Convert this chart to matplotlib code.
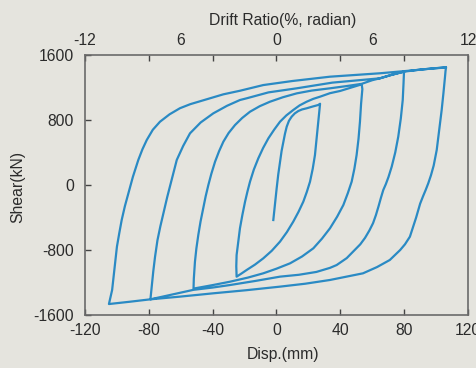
import matplotlib
matplotlib.use("Agg")
import matplotlib.pyplot as plt
import numpy as np

plt.rcParams['font.family'] = ['Liberation Sans', 'DejaVu Sans']

# ---- data ----
init_disp = [-2, -1, 0.1, 1.1, 2.2, 3.2, 4.3, 5.3, 6.4, 7.8, 9.5, 11.5, 13.7, 16, 18.9, 22.5, 26.2, 27.3]
init_shear = [-431, -240, -41, 130, 287, 420, 533, 630, 718, 790, 841, 882, 911, 930, 944, 965, 985, 1000]

unload27_disp = [26.8, 26.2, 25.2, 24.1, 22.7, 21, 19, 16.8, 13.8, 10.5, 6.5, 2.2, -3, -8.3, -13.5, -18.7, -22, -25]
unload27_shear = [900, 779, 570, 369, 200, 41, -85, -205, -330, -451, -580, -697, -810, -903, -980, -1046, -1090, -1128]

reload27_disp = [-25.2, -25, -24, -22.9, -21.4, -19.7, -18.2, -16.6, -14.2, -11.4, -8.4, -5.1, -1.5, 2.2, 6.2,
                 10.5, 14.5, 18.9, 23, 27.3, 33.5, 39.8, 46, 53.4]
reload27_shear = [-1000, -862, -700, -533, -370, -205, -80, 41, 190, 328, 455, 574, 680, 779, 857,
                  923, 980, 1025, 1060, 1087, 1130, 1157, 1195, 1239]

unload54_disp = [53.8, 53, 52.3, 51.4, 50.2, 48.8, 47.1, 44.7, 41.9, 38, 33.5, 28.5, 23.1, 16, 8.5, 0,
                 -8.3, -18, -29.1, -40, -52]
unload54_shear = [1180, 1000, 779, 570, 369, 200, 41, -100, -246, -390, -533, -660, -779, -880, -964, -1030,
                  -1087, -1140, -1190, -1232, -1275]

reload54_disp = [-51.8, -51.1, -50.2, -49, -47.6, -45.9, -44.4, -42.7, -40.8, -38.5, -36, -33.3, -30, -26,
                 -21.5, -16.6, -10.5, -4.1, 4, 12.7, 22, 33.5, 43, 53.4, 60, 64.8, 72, 79.9]
reload54_shear = [-1150, -944, -780, -615, -450, -287, -140, 0, 140, 287, 415, 533, 640, 738,
                  825, 902, 970, 1025, 1080, 1128, 1162, 1190, 1215, 1245, 1290, 1313, 1355, 1395]

unload80_disp = [79.6, 79.1, 77.9, 76.3, 74.4, 72.2, 70.2, 68.5, 66.9, 65.4, 63.9, 62.3, 60.5, 58.2, 55.5,
                 52.5, 49, 44, 37.7, 33.5, 25, 14, 2.2, -13, -29.1, -40, -52, -66, -79]
unload80_shear = [1250, 1046, 820, 595, 400, 226, 100, 10, -62, -160, -265, -370, -470, -560, -650,
                  -730, -800, -900, -985, -1020, -1070, -1105, -1128, -1180, -1231, -1262, -1290, -1350, -1407]

reload80_disp = [-78.2, -77.2, -76.1, -74.6, -72.8, -70.9, -68.5, -65.7, -62.5, -58.5, -54.2, -47.5, -39.6,
                 -31, -22.9, -18.7, -5, 12.7, 35, 64.8, 72, 79.9, 90, 98, 106.2]
reload80_shear = [-1251, -1060, -882, -680, -510, -349, -150, 62, 308, 480, 636, 770, 882,
                  975, 1046, 1067, 1140, 1190, 1260, 1313, 1355, 1395, 1420, 1435, 1445]

unload106_disp = [105.9, 105.6, 104.6, 103.5, 102, 100.4, 98.5, 96.8, 95.1, 93.5, 91.8, 90, 87.5, 85.5, 83.6,
                  80.5, 77.5, 71, 63, 54.2, 44, 33.5, 18, 2.2, -19, -39.6, -60.5, -79, -92, -105]
unload106_shear = [1400, 1333, 1130, 923, 680, 431, 240, 120, 21, -60, -140, -230, -400, -520, -636,
                   -730, -800, -923, -1010, -1087, -1128, -1169, -1215, -1251, -1295, -1333, -1374, -1407, -1437, -1465]

reload106_disp = [-104, -103, -101.5, -100, -98.5, -97, -95, -92.8, -90, -86.6, -84, -81.3, -77.5, -73, -67,
                  -60.5, -54, -48, -39.6, -33.3, -22.9, -8.3, 10, 33.5, 50, 64.8, 85, 106.2]
reload106_shear = [-1380, -1292, -1030, -760, -590, -430, -260, -102, 100, 308, 440, 554, 680, 779, 870,
                   945, 995, 1030, 1080, 1116, 1160, 1230, 1280, 1333, 1355, 1375, 1410, 1450]

x_ticks = [-120, -80, -40, 0, 40, 80, 120]
y_ticks = [-1600, -800, 0, 800, 1600]
top_tick_pos = [-120, -60, 0, 60, 120]
top_tick_labels = ['-12', '6', '0', '6', '12']

disp = np.concatenate([init_disp, unload27_disp, reload27_disp, unload54_disp, reload54_disp,
                       unload80_disp, reload80_disp, unload106_disp, reload106_disp])
shear = np.concatenate([init_shear, unload27_shear, reload27_shear, unload54_shear, reload54_shear,
                        unload80_shear, reload80_shear, unload106_shear, reload106_shear])

bg = '#E5E4DE'
line_c = '#2A8AC4'
txt = '#2b2b2b'
fs = 11.3

fig = plt.figure(figsize=(4.77, 3.68), dpi=100, facecolor=bg)
ax = fig.add_axes([85/477, 1-315/368, (468-85)/477, (315-55)/368])
ax.set_facecolor(bg)

ax.plot(disp, shear, color=line_c, lw=1.6, solid_joinstyle='round')

ax.set_xlim(-120, 120)
ax.set_ylim(-1600, 1600)
ax.set_xticks(x_ticks)
ax.set_yticks(y_ticks)
ax.set_xticklabels([str(v) for v in x_ticks])
ax.set_yticklabels([str(v) for v in y_ticks])
ax.tick_params(axis='both', direction='in', length=4, width=1, colors='#444444',
               labelcolor=txt, labelsize=fs)
ax.tick_params(axis='x', top=True, pad=6)
ax.tick_params(axis='y', pad=8)
for s in ax.spines.values():
    s.set_color('#6a6a6a')
    s.set_linewidth(1.2)

sec = ax.secondary_xaxis('top')
sec.set_xticks(top_tick_pos)
sec.set_xticklabels(top_tick_labels)
sec.tick_params(length=0, labelsize=fs, labelcolor=txt, pad=5)
sec.spines['top'].set_visible(False)

fig.text(18/477, 1-187/368, 'Shear(kN)', rotation=90, ha='center', va='center', fontsize=fs, color=txt)
fig.text(283/477, 1-355/368, 'Disp.(mm)', ha='center', va='center', fontsize=fs, color=txt)
fig.text(283/477, 1-20/368, 'Drift Ratio(%, radian)', ha='center', va='center', fontsize=fs, color=txt)

fig.savefig('out.png', dpi=100, facecolor=bg)
